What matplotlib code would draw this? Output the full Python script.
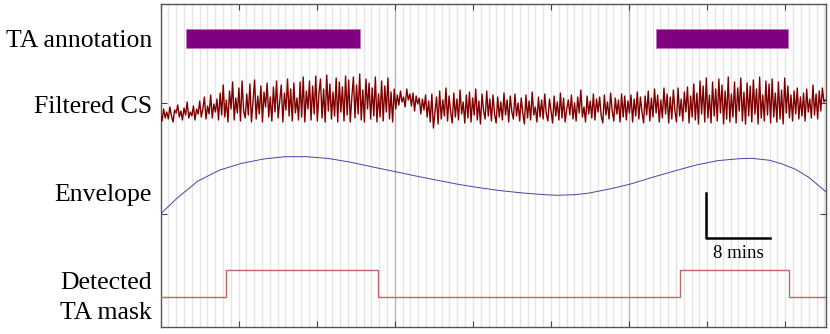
import numpy as np
import matplotlib.pyplot as plt

# etiquetas de cada canal
etiquetas = ['TA annotation', 'Filtered CS', 'Envelope', 'Detected\nTA mask']

# anotacion TA (minutos)
anot_ini = [3.3, 63.4]
anot_fin = [25.6, 80.4]

# señal filtrada, 5 muestras por minuto (0 a 85 min), leida a ojo
cs = [-12, -18, -6, -15, -9,  -16, -4, -13, -19, -7,  -10, -2, -14, -8, -17,
      -5, -12, 1, -15, -9,  -13, -3, -17, -6, -11,
      2, -14, -6, 6, -16,  -3, -11, 8, -15, -1,  -9, 4, -17, 10, -12,
      18, -14, 3, -19, 12,  -6, 21, -17, 5, -10,  15, -18, 22, -8, -15,
      9, -12, 19, -19, 2,  23, -16, 7, -11, 17,  -19, 11, -4, 20, -14,
      6, -18, 16, -9, 22,  -15, 2, 18, -19, 10,  -7, 24, -13, 14, -18,
      20, -10, 5, -17, 21,
      -14, 26, -19, 12, -6,  22, -17, 17, -11, 27,  -18, 9, 24, -15, 14,
      -19, 28, -8, 19, -16,  11, -13, 25, -19, 21,  -9, 16, -18, 27, -12,
      23, -19, 6, 26, -15,  18, -11, 29, -17, 13,  -19, 24, -6, 20, -16,
      15, -13, 26, -19, 9,  -14, 22, -18, 17, -9,  25, -16, 11, -19, 14,
      -6, 8, -2, 12, 1,  6, -4, 14, 3, 9,  -3, 10, -8, 7, -1,  5, -11, 4, -7, 8,
      -14, 2, -19, 9, -25,  -10, 6, -21, 12, -16,  3, -13, 15, -18, 7,
      -9, -20, 10, -14, 4,  -17, 13, -11, 1, -20,  8, -15, 11, -19, 5,
      -12, 14, -17, 2, -21,  9, -8, -16, 12, -13,
      4, -18, 8, -11, -20,  6, -14, 1, -17, 10,  -12, 3, -19, 7, -9,
      -16, 9, -13, 0, -18,  5, -10, -21, 8, -15,  2, -17, 11, -12, -4,
      -19, 6, -14, 3, -16,  9, -11, -18, 4, -8,  -20, 7, -13, 1, -17,
      10, -15, 5, -19, -6,  3, -12, 8, -16, 0,  -18, 6, -10, 13, -14,
      -4, -19, 7, -11, 2,  -15, 9, -17, 4, -9,  6, -13, -20, 8, -12,
      1, -16, 10, -8, -18,  5, -11, 3, -19, 9,  -14, 7, -17, 2, -10,
      8, -19, 4, -13, 11,  -16, 6, -9, -20, 7,
      -12, 12, -18, 5, -14,  14, -10, 8, -19, 3,  -15, 15, -11, 9, -20,
      6, -16, 13, -8, -19,  15, -13, 4, -18, 11,  -9, 16, -20, 7, -14,
      19, -17, 10, -21, 22,  -11, 17, -19, 25, -15,  8, -20, 21, -13, 14,
      -18, 24, -10, 18, -21,  12, -16, 26, -19, 9,  -14, 21, -20, 15, -8,
      25, -18, 11, -21, 20,  -13, 17, -19, 23, -11,  14, -21, 26, -15, 8,
      -18, 22, -12, 19, -20,  24, -14, 10, -19, 21,  -16, 13, -21, 25, -10,
      17, -15, 8, -18, 12,  -11, 15, -16, 6, -13,  10, -18, 14, -9, 4,
      -15, 18, -12, 9, -16,  12, -8, 15, 1, 3]

# envolvente
env_t = [0.1, 2.1, 4.8, 7.6, 10.4, 13.2, 15.9, 18.7, 21.5, 24.2, 27.0, 30.1, 32.5,
         35.3, 38.1, 40.8, 43.6, 46.4, 49.2, 50.8, 53.0, 54.7, 57.5, 60.2, 63.0,
         65.8, 68.6, 71.3, 74.1, 75.7, 78.0, 79.6, 81.3, 83.0, 85.2]
env_v = [0.7, 15.7, 33, 44, 50.7, 55, 57.3, 57.3, 55.5, 52, 47.3, 42.3, 38.3,
         34, 29.7, 26.3, 23.3, 21, 19.3, 18.7, 19.3, 20.7, 25, 30, 36.7,
         43, 49, 53.3, 55.3, 55.7, 53.7, 50, 44.7, 36.7, 22.3]

# mascara detectada
mask_t = [0, 8.4, 27.8, 66.5, 80.5, 85.2]
mask_v = [0, 1, 0, 1, 0, 0]

plt.rcParams['font.family'] = ['Liberation Serif', 'DejaVu Serif']

fig = plt.figure(figsize=(8.3, 3.34), dpi=100)
ax = fig.add_axes([160.5 / 830, 7 / 334, 665 / 830, 323 / 334])
ax.set_xlim(0, 85.15)
ax.set_ylim(0, 323)

# rejilla: cada minuto, mas oscura cada 30
for m in range(1, 86):
    c = '#b4b4b4' if m % 30 == 0 else '#e5e5e5'
    ax.axvline(m, color=c, lw=1, zorder=0)

y_anot, y_cs, y_env, y_mask = 288.5, 224, 113, 30

for a, b in zip(anot_ini, anot_fin):
    ax.add_patch(plt.Rectangle((a, y_anot - 9.5), b - a, 19, facecolor='#800080',
                               edgecolor='#c070c0', lw=0.6, zorder=3))

t_cs = np.linspace(0, 85.15, len(cs))
ax.plot(t_cs, y_cs + np.array(cs), color='#800000', lw=1.0, zorder=3)

ax.plot(env_t, y_env + np.array(env_v), color='#4444aa', lw=0.7, zorder=3)

ax.step(mask_t, y_mask + 27 * np.array(mask_v), where='post', color='#c06868', lw=1.0, zorder=3)

# barra de escala
ax.plot([69.9, 69.9, 78.1], [134, 89, 89], color='black', lw=1.8, zorder=4)
ax.text(74.0, 69, '8 mins', ha='center', va='baseline', fontsize=13.5)

# etiquetas a la izquierda
base = [280, 214, 126, 38, 8]
ax.text(-1.1, base[0], etiquetas[0], ha='right', va='baseline', fontsize=18.5)
ax.text(-1.1, base[1], etiquetas[1], ha='right', va='baseline', fontsize=18.5)
ax.text(-1.1, base[2], etiquetas[2], ha='right', va='baseline', fontsize=18.5)
ax.text(-1.1, base[3], 'Detected', ha='right', va='baseline', fontsize=18.5)
ax.text(-1.1, base[4], 'TA mask', ha='right', va='baseline', fontsize=18.5)

ax.set_xticks(np.arange(0, 86, 10))
ax.set_yticks([y_mask, y_env, y_cs])
ax.set_xticklabels([])
ax.set_yticklabels([])
ax.tick_params(direction='in', top=True, right=True, length=4, color='#444')
for s in ax.spines.values():
    s.set_color('#555555')
    s.set_linewidth(1)

plt.savefig('out.png', dpi=100)
